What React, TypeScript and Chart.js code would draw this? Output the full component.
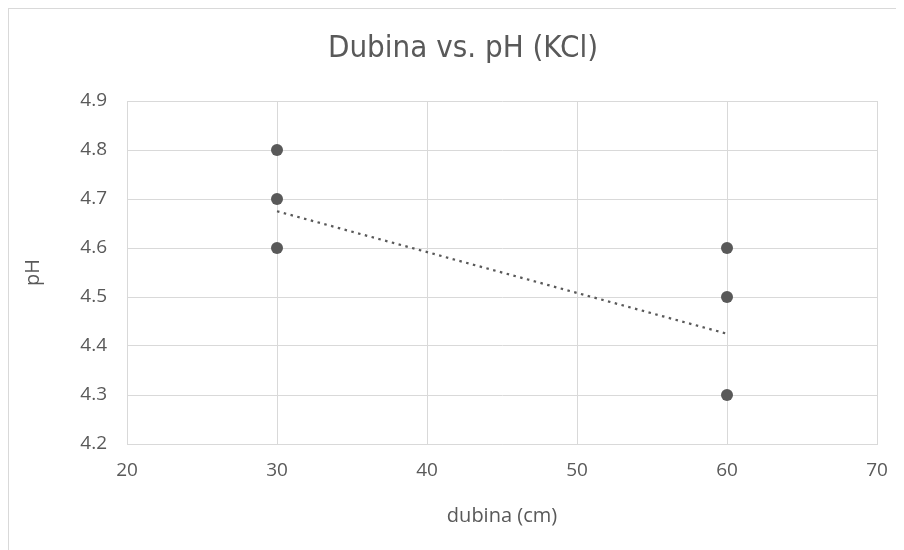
import React, { useEffect, useRef } from "react";
import { Chart, registerables } from "chart.js";

Chart.register(...registerables);

const titleText = "Dubina vs. pH (KCl)";
const xAxisTitle = "dubina (cm)";
const yAxisTitle = "pH";

const depthX = [30, 30, 30, 60, 60, 60];
const phY = [4.8, 4.7, 4.6, 4.6, 4.5, 4.3];

const trendX = [30, 60];
const trendY = [4.675, 4.425];

const xTicks = [20, 30, 40, 50, 60, 70];
const yTicks = [4.2, 4.3, 4.4, 4.5, 4.6, 4.7, 4.8, 4.9];

const GREY = "#595959";
const GRID = "#d9d9d9";
const FONT = "'Open Sans', 'Noto Sans', sans-serif";
const TITLE_FONT = "'DejaVu Sans Condensed', 'Liberation Sans Narrow', 'Open Sans', sans-serif";

const titlePlugin = {
  id: "centeredTitle",
  afterDraw(chart: any) {
    const ctx = chart.ctx;
    ctx.save();
    ctx.font = `normal 31px ${TITLE_FONT}`;
    ctx.fillStyle = GREY;
    ctx.textAlign = "center";
    ctx.textBaseline = "middle";
    ctx.fillText(titleText, 454, 40);
    ctx.restore();
  },
};

export default function App() {
  const ref = useRef<HTMLCanvasElement | null>(null);

  useEffect(() => {
    if (!ref.current) return;
    const chart = new Chart(ref.current, {
      type: "scatter",
      plugins: [titlePlugin],
      data: {
        datasets: [
          {
            label: "pH",
            data: depthX.map((x, i) => ({ x, y: phY[i] })),
            backgroundColor: GREY,
            borderColor: GREY,
            pointRadius: 6,
            pointBorderWidth: 0,
            showLine: false,
            order: 1,
          },
          {
            label: "trend",
            data: trendX.map((x, i) => ({ x, y: trendY[i] })),
            showLine: true,
            borderColor: GREY,
            borderWidth: 2.25,
            borderDash: [2.5, 4.5],
            pointRadius: 0,
            fill: false,
            order: 0,
          },
        ],
      },
      options: {
        animation: false,
        responsive: false,
        maintainAspectRatio: false,
        layout: { padding: { left: 12, right: 27, top: 92, bottom: 22 } },
        plugins: {
          legend: { display: false },
          tooltip: { enabled: false },
          title: { display: false },
        },
        scales: {
          x: {
            type: "linear",
            min: 20,
            max: 70,
            afterBuildTicks: (s: any) => {
              s.ticks = xTicks.map((v) => ({ value: v }));
            },
            afterFit: (s: any) => {
              s.height = 84;
            },
            grid: { color: GRID, lineWidth: 1, drawTicks: false },
            border: { color: GRID, width: 1 },
            ticks: { color: GREY, font: { family: FONT, size: 19 }, padding: 15 },
            title: {
              display: true,
              text: xAxisTitle,
              color: GREY,
              font: { family: FONT, size: 20 },
              padding: { top: 4, bottom: 0 },
            },
          },
          y: {
            type: "linear",
            min: 4.2,
            max: 4.9,
            afterBuildTicks: (s: any) => {
              s.ticks = yTicks.map((v) => ({ value: v }));
            },
            afterFit: (s: any) => {
              s.width = 106;
            },
            grid: { color: GRID, lineWidth: 1, drawTicks: false },
            border: { color: GRID, width: 1 },
            ticks: {
              color: GREY,
              font: { family: FONT, size: 19 },
              padding: 20,
              callback: (v: any) => Number(v).toFixed(1),
            },
            title: {
              display: true,
              text: yAxisTitle,
              color: GREY,
              font: { family: FONT, size: 20 },
              padding: 0,
            },
          },
        },
      },
    });
    return () => chart.destroy();
  }, []);

  return (
    <div
      style={{
        width: 895,
        height: 541,
        borderLeft: "1px solid #d9d9d9",
        borderTop: "1px solid #d9d9d9",
        background: "#fff",
        overflow: "hidden",
      }}
    >
      <canvas ref={ref} width={895} height={541} style={{ display: "block" }} />
    </div>
  );
}
